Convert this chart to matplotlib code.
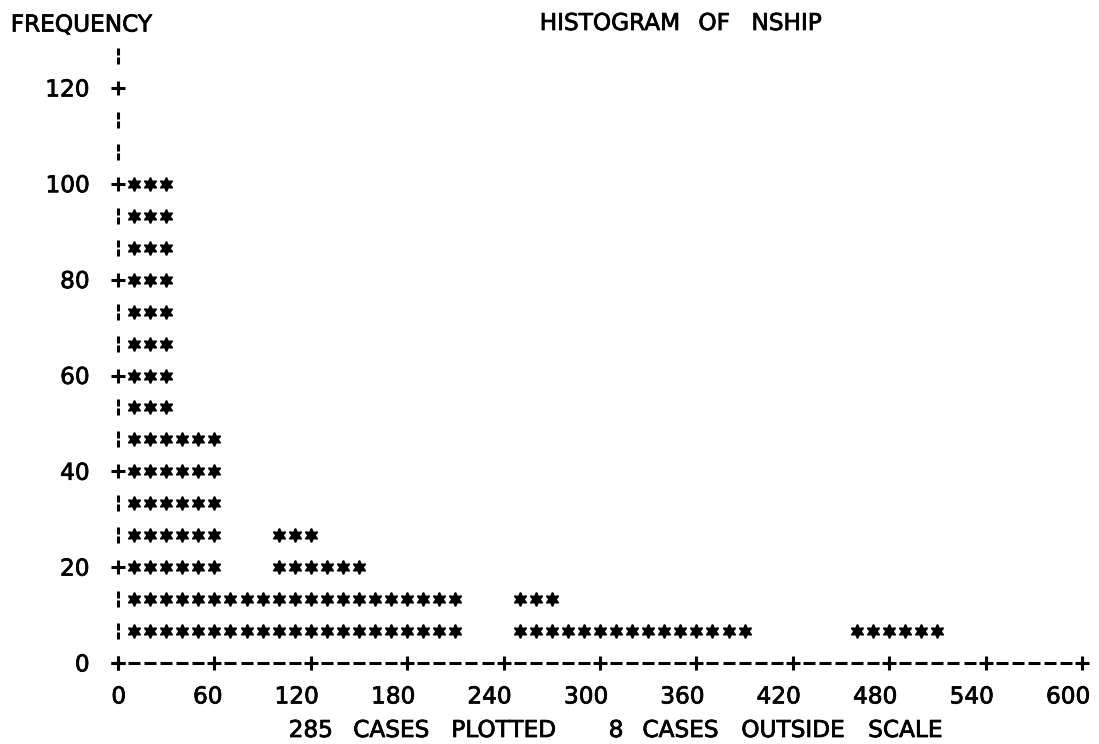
import numpy as np
import matplotlib
matplotlib.use("Agg")
import matplotlib.pyplot as plt
import matplotlib.patheffects as pe
from matplotlib.path import Path
from matplotlib.transforms import offset_copy

# ---------------- data ----------------
bin_lo = list(range(0, 600, 30))                       # histogram bins, width 30
counts = [102, 47, 14, 27, 21, 13, 13, 0, 13, 6,
          6, 5, 6, 0, 0, 6, 6, 0, 0, 0]                 # cases per bin
x_ticks = [0, 60, 120, 180, 240, 300, 360, 420, 480, 540, 600]
y_ticks = [0, 20, 40, 60, 80, 100, 120]
title = "HISTOGRAM OF NSHIP"
ylabel = "FREQUENCY"
footer_left = "285 CASES PLOTTED"
footer_right = "8 CASES OUTSIDE SCALE"

# ---------------- layout / style ----------------
BIN_W = 30
CELL = 10            # NSHIP units per printed character column
ROW = 20 / 3         # cases per printed row (3 rows per 20)
W, H = 1099, 744
X0_PX, X600_PX = 118, 1082
Y0_PX, Y120_PX = 663, 88
FS = 16.7
INK = "black"
BOLD = [pe.withStroke(linewidth=0.55, foreground=INK)]
plt.rcParams["font.family"] = ["DejaVu Sans"]

fig = plt.figure(figsize=(W / 100, H / 100), dpi=100)
fig.patch.set_facecolor("white")
ax = fig.add_axes([0, 0, 1, 1])
ax.axis("off")
sx = (X600_PX - X0_PX) / 600
sy = (Y0_PX - Y120_PX) / 120
ax.set_xlim(-X0_PX / sx, (W - X0_PX) / sx)
ax.set_ylim(-(H - Y0_PX) / sy, Y0_PX / sy)

# ---------------- stars ----------------
star_x, star_y = [], []
for lo, c in zip(bin_lo, counts):
    k = int(round(c / ROW))
    for r in range(1, k + 1):
        for j in range(1, BIN_W // CELL + 1):
            star_x.append(lo + j * CELL)
            star_y.append(r * ROW)
ax.plot(star_x, star_y, ls="none", marker=(6, 1, 0), ms=10.0,
        color=INK, mec=INK, mew=1.1)

# ---------------- y axis (+ and broken bars) ----------------
top_row = int(round(max(y_ticks) / ROW)) + 1
rows = np.arange(0, top_row + 1)
plus_rows = rows[rows % 3 == 0]
bar_rows = rows[rows % 3 != 0]
broken_bar = Path([(0, -1), (0, -0.16), (0, 0.16), (0, 1)],
                  [Path.MOVETO, Path.LINETO, Path.MOVETO, Path.LINETO])
ax.plot(np.zeros(len(bar_rows)), bar_rows * ROW, ls="none", marker=broken_bar,
        ms=11.5, mec=INK, mew=2.2)
ax.plot(np.zeros(len(plus_rows)), plus_rows * ROW, ls="none", marker="+",
        ms=9.8, mec=INK, mew=2.2)

# ---------------- x axis (+ and dashes) ----------------
ncols = max(x_ticks) // CELL
cols = np.arange(0, ncols + 1)
tick_cols = cols[cols % 6 == 0]
dash_cols = cols[cols % 6 != 0]
ax.plot(dash_cols * CELL, np.zeros(len(dash_cols)), ls="none", marker="_",
        ms=8.0, mec=INK, mew=2.2)
ax.plot(tick_cols * CELL, np.zeros(len(tick_cols)), ls="none", marker="+",
        ms=9.8, mec=INK, mew=2.2)

# ---------------- tick labels ----------------
for t in x_ticks:
    ax.text(t, 0, str(t), fontsize=FS, color=INK, ha="right", va="baseline",
            path_effects=BOLD,
            transform=offset_copy(ax.transData, fig, x=8, y=-40.4, units="dots"))
for t in y_ticks:
    ax.text(0, t, str(t), fontsize=FS, color=INK, ha="right", va="baseline",
            path_effects=BOLD,
            transform=offset_copy(ax.transData, fig, x=-28.5, y=-8.4, units="dots"))


# ---------------- texts on the character grid ----------------
def grid_text(s, col0, base_px):
    tr = offset_copy(ax.transData, fig, x=0, y=Y0_PX - base_px, units="dots")
    col = col0
    for word in s.split(" "):
        if word:
            center = col + (len(word) - 1) / 2
            ax.text(center * CELL, 0, word, fontsize=FS, color=INK,
                    ha="center", va="baseline", transform=tr,
                    path_effects=BOLD)
        col += len(word) + 1


grid_text(title, 26.6, 30)
grid_text(footer_left, 11, 737)
grid_text(footer_right, 31, 737)
fig.text(81 / W, 1 - 31.5 / H, ylabel, fontsize=FS, color=INK,
         ha="center", va="baseline", path_effects=BOLD)

fig.savefig("out.png", dpi=100, facecolor="white")
